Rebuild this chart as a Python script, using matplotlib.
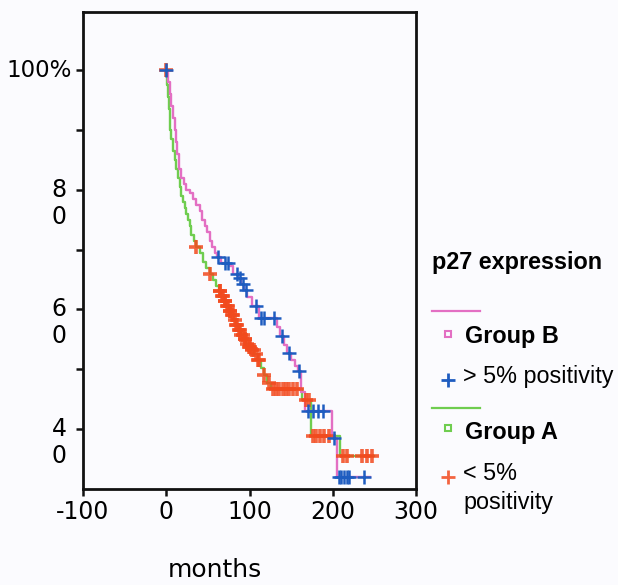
import numpy as np
import matplotlib
matplotlib.use("Agg")
import matplotlib.pyplot as plt

# Group B (> 5% positivity) survival steps
b_time = [0, 2, 4, 6, 8, 10, 12, 13, 15, 18, 21, 24, 28, 32, 36, 40, 43, 46, 49, 52, 55, 58, 61,
          66, 75, 80, 86, 90, 93, 97, 103, 112, 133, 137, 141, 145, 150, 155, 158, 162, 167, 199, 205, 245]
b_surv = [1.0, .98, .96, .94, .92, .90, .88, .86, .835, .82, .81, .80, .795, .785, .775, .765, .75, .74, .73,
          .715, .705, .695, .687, .678, .672, .66, .652, .642, .632, .62, .605, .585, .57, .555, .54, .528,
          .515, .505, .497, .462, .43, .385, .32, .32]
b_cens = [0, 62, 71, 74, 85, 89, 92, 96, 108, 114, 118, 130, 139, 148, 160, 170, 176, 182, 188,
          202, 207, 210, 213, 217, 220, 238]

# Group A (< 5% positivity) survival steps
a_time = [0, 1, 2, 3, 4, 5, 6, 8, 10, 12, 14, 16, 18, 20, 22, 24, 26, 28, 30, 33, 36, 40, 44, 48, 52,
          56, 60, 63, 66, 69, 72, 75, 78, 81, 84, 87, 90, 93, 96, 99, 102, 106, 110, 114, 117, 121, 126,
          163, 174, 209, 250]
a_surv = [1.0, .975, .955, .935, .915, .90, .885, .865, .85, .835, .82, .805, .79, .78, .77, .76, .75,
          .74, .725, .715, .705, .695, .68, .67, .66, .65, .64, .63, .622, .614, .606, .598, .59, .582,
          .574, .566, .558, .55, .543, .537, .532, .525, .515, .503, .49, .477, .467, .448, .388, .355, .355]
a_cens = [0, 36, 52, 64, 65, 67, 68, 70, 71, 73, 74, 76, 77, 79, 80, 82, 84, 85, 87, 89, 90, 92, 94, 95,
          97, 99, 101, 103, 105, 108, 110, 112, 118, 124, 128, 132, 136, 140, 144, 148, 152, 157, 168, 171,
          176, 180, 185, 190, 196, 212, 217, 235, 241, 247]

xticks = [-100, 0, 100, 200, 300]
ylabels = {1.0: "100%", 0.8: "8\n0", 0.6: "6\n0", 0.4: "4\n0"}

PINK = "#e36fc3"
GREEN = "#6fcd4f"
BLUE = "#1e5cc0"
RED = "#f24a1e"


def surv_at(t, s, times):
    t = np.asarray(t)
    s = np.asarray(s)
    idx = np.searchsorted(t, times, side="right") - 1
    return s[idx]


fig = plt.figure(figsize=(6.18, 5.85), dpi=100)
fig.patch.set_facecolor("#fbfbfe")
ax = fig.add_axes([83 / 618, 1 - 489 / 585, (416 - 83) / 618, (489 - 12) / 585])
ax.set_facecolor("#fbfbfe")

ax.step(a_time, a_surv, where="post", color=GREEN, lw=1.7, zorder=2)
ax.step(b_time, b_surv, where="post", color=PINK, lw=1.7, zorder=2)
ax.plot(a_cens, surv_at(a_time, a_surv, a_cens), ls="none", marker="+", ms=10, mew=2.6,
        color=RED, alpha=0.85, zorder=3)
ax.plot(b_cens, surv_at(b_time, b_surv, b_cens), ls="none", marker="+", ms=10, mew=1.8,
        color=BLUE, zorder=4)

ax.set_xlim(-100, 300)
ax.set_ylim(0.3, 1.097)
ax.set_xticks(xticks)
ax.set_xticklabels([str(v) for v in xticks], fontsize=17)
ax.set_yticks([0.4, 0.5, 0.6, 0.7, 0.8, 0.9, 1.0])
ax.set_yticklabels([])
ax.tick_params(direction="out", length=5, width=1.8, color="#111111", pad=3)
for sp in ax.spines.values():
    sp.set_linewidth(2)
    sp.set_color("#111111")

ytr = ax.get_yaxis_transform()
for val, lab in ylabels.items():
    if val == 1.0:
        ax.text(-0.035, val, lab, transform=ytr, ha="right", va="center", fontsize=16.5)
    else:
        top, bot = lab.split("\n")
        ax.text(-0.072, val, top, transform=ytr, ha="center", va="center", fontsize=17)
        ax.text(-0.072, val - 0.045, bot, transform=ytr, ha="center", va="center", fontsize=17)

fig.text(215 / 618, 1 - 570 / 585, "months", ha="center", va="center", fontsize=18)

# legend block on the right
lax = fig.add_axes([0, 0, 1, 1])
lax.set_xlim(0, 618)
lax.set_ylim(585, 0)
lax.axis("off")
lfont = dict(family="Liberation Sans", fontsize=16.8)
lax.text(432, 262, "p27 expression", fontweight="bold", va="center", ha="left", **lfont)
lax.plot([432, 480], [311, 311], color=PINK, lw=1.6)
lax.plot([448], [334], marker="s", ms=5, mfc="none", mec=PINK, mew=1.5)
lax.text(465, 336, "Group B", fontweight="bold", va="center", ha="left", **lfont)
lax.plot([448], [380], marker="+", ms=10, mew=2, color=BLUE)
lax.text(463, 377, "> 5% positivity", va="center", ha="left", **lfont)
lax.plot([432, 480], [408, 408], color=GREEN, lw=1.6)
lax.plot([448], [428], marker="s", ms=5, mfc="none", mec=GREEN, mew=1.5)
lax.text(465, 432, "Group A", fontweight="bold", va="center", ha="left", **lfont)
lax.plot([448], [477], marker="+", ms=10, mew=2, color=RED, alpha=0.85)
lax.text(463, 474, "< 5%", va="center", ha="left", **lfont)
lax.text(463, 502, "positivity", va="center", ha="left", **lfont)

fig.savefig("out.png", dpi=100, facecolor=fig.get_facecolor())
